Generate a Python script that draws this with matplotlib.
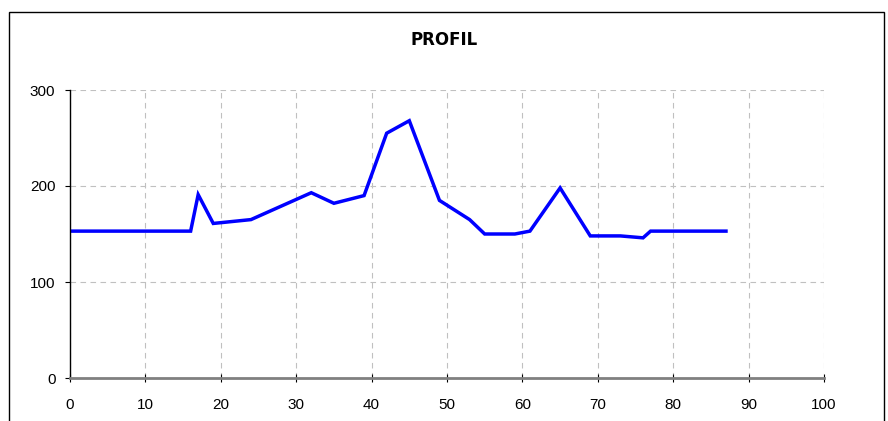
import matplotlib.pyplot as plt
from matplotlib.patches import Rectangle

# profile data
dist = [0, 16, 17, 19, 24, 32, 35, 39, 42, 45, 49, 53, 55, 59, 61, 65, 69, 73, 76, 77, 87]
elev = [153, 153, 191, 161, 165, 193, 182, 190, 255, 268, 185, 165, 150, 150, 153, 198, 148, 148, 146, 153, 153]

x_ticks = [0, 10, 20, 30, 40, 50, 60, 70, 80, 90, 100]
y_ticks = [0, 100, 200, 300]

plt.rcParams['font.family'] = ['Liberation Sans', 'DejaVu Sans']

fig = plt.figure(figsize=(8.88, 4.21), dpi=100)

# chart frame (bottom edge falls outside the picture)
fig.patches.append(Rectangle((9 / 888, -0.05), 875 / 888, 1 - 12 / 421 + 0.05,
                             transform=fig.transFigure, fill=False,
                             edgecolor='black', linewidth=1.0))

ax = fig.add_axes([70 / 888, 1 - 378 / 421, 754 / 888, 288 / 421])
ax.plot(dist, elev, color='#0000ff', linewidth=2.5, solid_joinstyle='miter')

ax.set_xlim(0, 100)
ax.set_ylim(0, 300)
ax.set_xticks(x_ticks)
ax.set_yticks(y_ticks)
ax.grid(True, color='#c0c0c0', linestyle=(0, (5, 4)), linewidth=0.8)

for s in ['top', 'right']:
    ax.spines[s].set_visible(False)
ax.spines['left'].set_color('black')
ax.spines['left'].set_linewidth(1.0)
ax.spines['bottom'].set_color('#808080')
ax.spines['bottom'].set_linewidth(2.0)

ax.tick_params(axis='x', direction='inout', length=6, width=0.8, color='black',
               pad=11.5, labelsize=11)
ax.tick_params(axis='y', direction='out', length=3.5, width=0.8, color='black',
               pad=7, labelsize=11)

fig.text(0.5, 1 - 40 / 421, 'PROFIL', ha='center', va='center',
         fontsize=12, fontweight='bold', family='DejaVu Sans')

fig.savefig('out.png', dpi=100)
